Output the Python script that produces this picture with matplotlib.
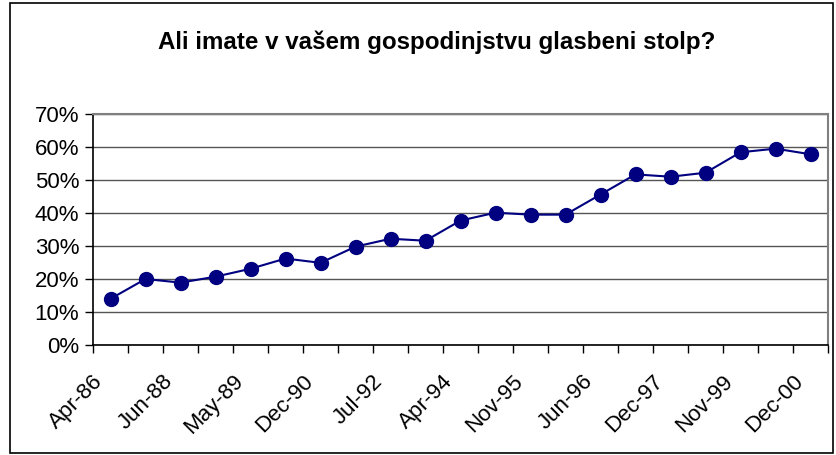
import matplotlib
matplotlib.use("Agg")
import matplotlib.pyplot as plt
from matplotlib.patches import Rectangle
from matplotlib.ticker import FixedLocator, FuncFormatter
from matplotlib.transforms import ScaledTranslation

title = "Ali imate v vašem gospodinjstvu glasbeni stolp?"
categories = ["Apr-86", "Apr-87", "Jun-88", "Dec-88", "May-89", "Dec-89",
              "Dec-90", "Dec-91", "Jul-92", "Jun-93", "Apr-94", "Dec-94",
              "Nov-95", "Apr-96", "Jun-96", "Apr-97", "Dec-97", "Dec-98",
              "Nov-99", "Apr-00", "Dec-00"]
values = [14.0, 20.0, 18.9, 20.7, 23.1, 26.2, 24.9, 29.8, 32.2, 31.6, 37.7,
          40.1, 39.5, 39.5, 45.6, 51.7, 51.0, 52.2, 58.4, 59.5, 57.8]
yticks = [0, 10, 20, 30, 40, 50, 60, 70]

plt.rcParams['font.family'] = ['Liberation Sans', 'DejaVu Sans']

fig = plt.figure(figsize=(8.36, 4.55), dpi=100)
W, H = 836, 455
ax = fig.add_axes([93 / W, 1 - 345 / H, (828 - 93) / W, (345 - 114) / H])

n = len(categories)
x = list(range(n))
ax.plot(x, values, color='#000080', lw=1.5, marker='o', markersize=10,
        markerfacecolor='#000080', markeredgecolor='#000080', zorder=3, clip_on=False)

ax.set_xlim(-0.5, n - 0.5)
ax.set_ylim(0, 70)
ax.set_yticks(yticks)
ax.yaxis.set_major_formatter(FuncFormatter(lambda v, p: f"{int(v)}%"))
ax.grid(axis='y', color='#555555', lw=1.0)
ax.set_axisbelow(True)

# x ticks at category boundaries, labels at every other category center
ax.xaxis.set_major_locator(FixedLocator([i - 0.5 for i in range(n + 1)]))
ax.xaxis.set_major_formatter(FuncFormatter(lambda v, p: ""))
ax.tick_params(axis='x', which='major', length=6, width=1, color='black', direction='out')
ax.set_xticks(x[::2], minor=True)
ax.set_xticklabels(categories[::2], minor=True, rotation=45, ha='right',
                   rotation_mode='anchor', fontsize=16)
ax.tick_params(axis='x', which='minor', length=0, pad=13)
offset = ScaledTranslation(-0.18, -0.08, fig.dpi_scale_trans)
for lab in ax.get_xticklabels(minor=True):
    lab.set_transform(lab.get_transform() + offset)
ax.tick_params(axis='y', length=6, width=1, color='black', labelsize=16, pad=4)

for s in ['top', 'right']:
    ax.spines[s].set_color('#808080')
    ax.spines[s].set_linewidth(1.5)
for s in ['left', 'bottom']:
    ax.spines[s].set_color('black')
    ax.spines[s].set_linewidth(1.2)

fig.text(437 / W, 1 - 42 / H, title, ha='center', va='center',
         fontsize=17.4, fontweight='bold')

fig.patches.append(Rectangle((10 / W, 2 / H), (833 - 10) / W, (452 - 2) / H,
                             transform=fig.transFigure, fill=False,
                             edgecolor='black', lw=1.2))

fig.savefig('out.png', dpi=100)
